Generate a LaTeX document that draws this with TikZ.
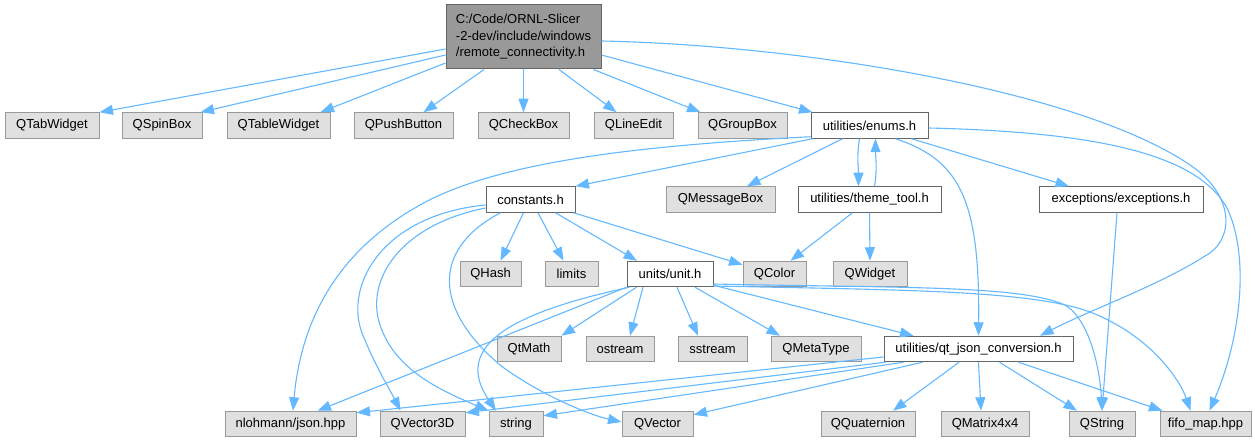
\documentclass[tikz,border=0pt]{standalone}
\usepackage{fontspec}
\setmainfont{Liberation Sans}
\usetikzlibrary{arrows.meta}
\definecolor{edgec}{HTML}{63B8FF}
\definecolor{extfill}{HTML}{E0E0E0}
\definecolor{extdraw}{HTML}{999999}
\definecolor{intdraw}{HTML}{666666}
\definecolor{rootfill}{HTML}{999999}
\tikzset{
  box/.style={draw, line width=1pt, minimum height=25.5pt, inner sep=0pt, anchor=center,
              font=\fontsize{13}{16.5}\selectfont},
  sys/.style={box, fill=extfill, draw=extdraw},
  hdr/.style={box, fill=white, draw=intdraw},
  rootbox/.style={box, fill=rootfill, draw=intdraw, align=left},
  dep/.style={draw=edgec, line width=1.1pt, -{Triangle[length=13.5pt,width=10pt]}},
}
\begin{document}
\begin{tikzpicture}[x=1pt,y=-1pt]
\useasboundingbox (0,0) rectangle (1255,443);
% root
\node[rootbox, minimum width=155pt, minimum height=64pt] (root) at (523.5,37)
  {C:/Code/ORNL-Slicer\\-2-dev/include/windows\\/remote\_connectivity.h};
% row 1
\node[sys, minimum width=94pt]  (qtab)   at (52,125.5)  {QTabWidget};
\node[sys, minimum width=80pt]  (qspin)  at (162,125.5) {QSpinBox};
\node[sys, minimum width=103pt] (qtable) at (278.5,125.5) {QTableWidget};
\node[sys, minimum width=99pt]  (qpush)  at (403.5,125.5) {QPushButton};
\node[sys, minimum width=91pt]  (qcheck) at (523.5,125.5) {QCheckBox};
\node[sys, minimum width=79pt]  (qline)  at (633.5,125.5) {QLineEdit};
\node[sys, minimum width=89pt]  (qgroup) at (742.5,125.5) {QGroupBox};
\node[hdr, minimum width=117pt] (enums)  at (869.5,125.5) {utilities/enums.h};
% row 2
\node[hdr, minimum width=89pt]  (constants) at (530.5,199.5) {constants.h};
\node[sys, minimum width=109pt] (qmsg)   at (720.5,199.5) {QMessageBox};
\node[hdr, minimum width=143pt] (theme)  at (869.5,199.5) {utilities/theme\_tool.h};
\node[hdr, minimum width=164pt] (exc)    at (1121,199.5) {exceptions/exceptions.h};
% row 3
\node[sys, minimum width=61pt]  (qhash)  at (490.5,274) {QHash};
\node[sys, minimum width=53pt]  (limits) at (571.5,274) {limits};
\node[hdr, minimum width=86pt]  (unit)   at (670,274) {units/unit.h};
\node[sys, minimum width=63pt]  (qcolor) at (774.5,274) {QColor};
\node[sys, minimum width=74pt]  (qwidget) at (870,274) {QWidget};
% row 4
\node[sys, minimum width=64pt]  (qtmath) at (529,349) {QtMath};
\node[sys, minimum width=68pt]  (ostream) at (620,349) {ostream};
\node[sys, minimum width=69pt]  (sstream) at (712.5,349) {sstream};
\node[sys, minimum width=90pt]  (qmeta)  at (816,349) {QMetaType};
\node[hdr, minimum width=189pt] (qtjson) at (978.5,349) {utilities/qt\_json\_conversion.h};
% row 5
\node[sys, minimum width=131pt] (nlohmann) at (290.5,424) {nlohmann/json.hpp};
\node[sys, minimum width=85pt]  (qvec3d) at (422.5,424) {QVector3D};
\node[sys, minimum width=54pt]  (string) at (516,424) {string};
\node[sys, minimum width=71pt]  (qvector) at (657.5,424) {QVector};
\node[sys, minimum width=94pt]  (qquat)  at (868,424) {QQuaternion};
\node[sys, minimum width=88pt]  (qmat)   at (985,424) {QMatrix4x4};
\node[sys, minimum width=66pt]  (qstring) at (1102,424) {QString};
\node[sys, minimum width=91pt]  (fifo)   at (1205.5,424) {fifo\_map.hpp};
% root edges
\draw[dep] ([yshift=-12pt]root.west) -- (qtab.north east);
\draw[dep] ([yshift=-18pt]root.west) -- ([xshift=-2pt]qspin.north east);
\draw[dep] ([yshift=-26pt]root.west) -- ([xshift=-10pt]qtable.north east);
\draw[dep] ([xshift=-39.5pt]root.south) -- ([xshift=20pt]qpush.north);
\draw[dep] (root.south) -- (qcheck.north);
\draw[dep] ([xshift=35.5pt]root.south) -- ([xshift=-17pt]qline.north);
\draw[dep] ([xshift=70pt]root.south) -- ([xshift=3pt]qgroup.north west);
\draw[dep] ([yshift=-18pt]root.east) -- ([xshift=2pt]enums.north west);
\draw[dep] ([yshift=-4pt]root.east) .. controls (800,45) and (1080,90) .. (1190,165)
  .. controls (1235,195) and (1235,240) .. (1205,256)
  .. controls (1160,285) and (1090,310) .. ([xshift=61.5pt]qtjson.north);
% enums edges
\draw[dep] ([xshift=-57pt]enums.south) -- (constants.north east);
\draw[dep] ([yshift=2pt]enums.south west) .. controls (650,145) and (500,160) .. (420,205)
  .. controls (330,255) and (300,330) .. ([xshift=2.5pt]nlohmann.north);
\draw[dep] ([xshift=-27pt]enums.south) -- ([xshift=26.5pt]qmsg.north);
\draw[dep] ([xshift=-10pt]enums.south) .. controls +(-3,18) and +(0,-18) .. ([xshift=-11pt]theme.north);
\draw[dep] ([xshift=5pt]theme.north) .. controls +(3,-18) and +(0,18) .. ([xshift=6pt]enums.south);
\draw[dep] ([xshift=42pt]enums.south) -- ([xshift=-52pt]exc.north);
\draw[dep] ([xshift=26pt]enums.south) .. controls (960,160) and (980,200) .. (qtjson.north);
\draw[dep] ([yshift=-2.5pt]enums.east) .. controls (1100,132) and (1200,155) .. (1228,210)
  .. controls (1250,260) and (1240,340) .. ([xshift=4pt]fifo.north);
% theme / exceptions
\draw[dep] ([xshift=-17pt]theme.south) -- ([xshift=16pt]qcolor.north);
\draw[dep] (theme.south) -- (qwidget.north);
\draw[dep] ([xshift=-4pt]exc.south) -- (qstring.north);
% constants
\draw[dep] ([xshift=-7pt]constants.south) -- ([xshift=10pt]qhash.north);
\draw[dep] ([xshift=7.5pt]constants.south) -- ([xshift=-8pt]limits.north);
\draw[dep] ([xshift=25pt]constants.south) -- ([xshift=-33pt]unit.north);
\draw[dep] ([xshift=-2pt]constants.south east) -- ([yshift=-4pt]qcolor.north west);
\draw[dep] ([yshift=-5.5pt]constants.west) .. controls (380,215) and (340,290) .. (365,340)
  .. controls (375,365) and (390,390) .. ([xshift=-22pt]qvec3d.north);
\draw[dep] ([yshift=-8.5pt]constants.west) .. controls (400,225) and (365,280) .. (380,325)
  .. controls (395,370) and (440,390) .. (string.north west);
\draw[dep] ([xshift=-30pt]constants.south) .. controls (430,250) and (435,310) .. (500,365)
  .. controls (540,395) and (590,415) .. ([yshift=2pt]qvector.west);
% unit
\draw[dep] ([xshift=10pt]unit.south west) -- (qtmath.north east);
\draw[dep] (unit.south west) -- ([xshift=27pt]nlohmann.north);
\draw[dep] ([xshift=3pt]unit.south west) .. controls (500,315) and (455,350) .. ([xshift=-20pt]string.north);
\draw[dep] ([xshift=-27pt]unit.south) -- ([xshift=10pt]ostream.north);
\draw[dep] ([xshift=7pt]unit.south) -- ([xshift=-14.5pt]sstream.north);
\draw[dep] ([xshift=25pt]unit.south) -- ([xshift=-36pt]qmeta.north);
\draw[dep] ([yshift=2pt]unit.south east) -- ([xshift=-65pt]qtjson.north);
\draw[dep] ([yshift=-10pt]unit.east) .. controls (900,288) and (1020,285) .. (1065,305)
  .. controls (1090,320) and (1100,370) .. (qstring.north);
\draw[dep] ([yshift=-12pt]unit.east) .. controls (900,290) and (1030,290) .. (1090,312)
  .. controls (1150,335) and (1180,380) .. ([xshift=-15pt]fifo.north);
% qt_json
\draw[dep] ([yshift=-8pt]qtjson.west) -- ([yshift=-2pt]nlohmann.north east);
\draw[dep] ([xshift=2pt]qtjson.south west) -- ([yshift=-2pt]qvec3d.north east);
\draw[dep] ([xshift=-75pt]qtjson.south) -- ([yshift=-5pt]string.north east);
\draw[dep] ([xshift=-56pt]qtjson.south) -- ([yshift=-4pt]qvector.north east);
\draw[dep] ([xshift=-19.5pt]qtjson.south) -- ([xshift=25pt]qquat.north);
\draw[dep] (qtjson.south) -- ([xshift=-4pt]qmat.north);
\draw[dep] ([xshift=21pt]qtjson.south) -- ([xshift=-25pt]qstring.north);
\draw[dep] ([xshift=40pt]qtjson.south) -- ([xshift=3pt]fifo.north west);
\end{tikzpicture}
\end{document}
